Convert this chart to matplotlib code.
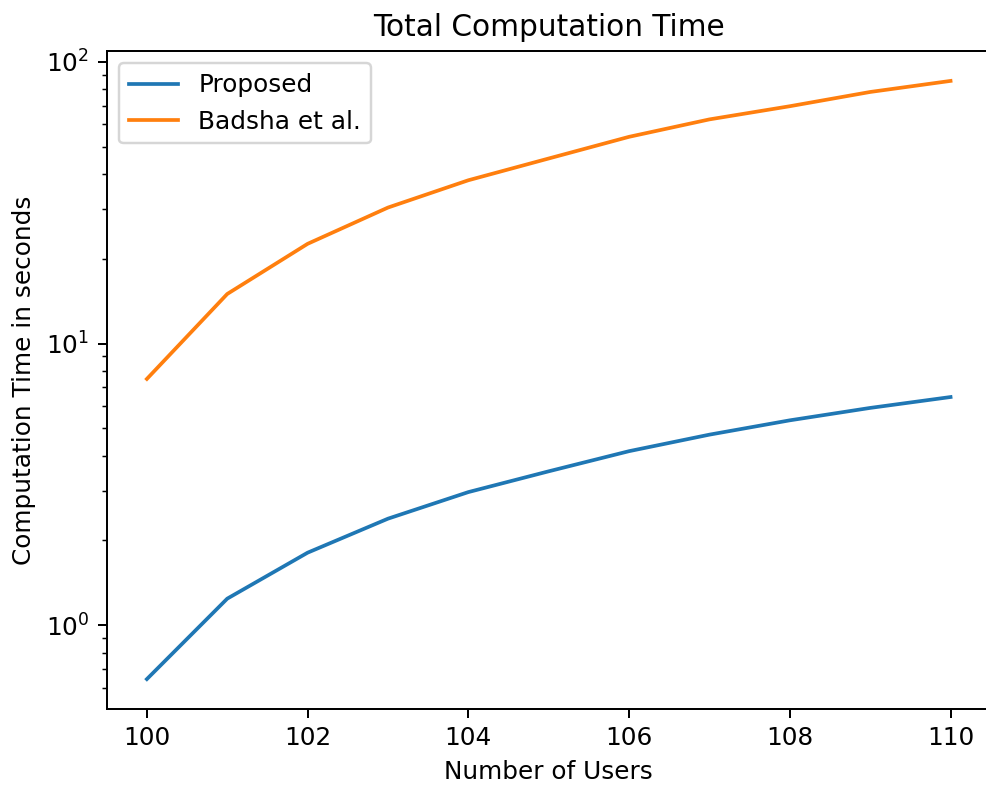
import matplotlib
matplotlib.use('Agg')
import matplotlib.pyplot as plt

# Data
users = [100, 101, 102, 103, 104, 105, 106, 107, 108, 109, 110]
proposed = [0.644, 1.243, 1.81, 2.39, 2.97, 3.52, 4.15, 4.75, 5.34, 5.91, 6.46]
badsha = [7.49, 15.0, 22.6, 30.4, 38.0, 45.4, 54.2, 62.5, 69.6, 78.2, 85.6]

dpi = 178
fig = plt.figure(figsize=(986 / dpi, 787 / dpi), dpi=dpi)
# the reference crops the right spine off, so the axes run past the figure edge
ax = fig.add_axes([0.1082, 0.0991, 0.8966, 0.8361])

ax.plot(users, proposed, label='Proposed')
ax.plot(users, badsha, label='Badsha et al.')
ax.set_yscale('log')

ax.set_title('Total Computation Time')
ax.set_xlabel('Number of Users')
ax.set_ylabel('Computation Time in seconds')
ax.legend(loc='upper left')

fig.savefig('out.png', dpi=dpi)
